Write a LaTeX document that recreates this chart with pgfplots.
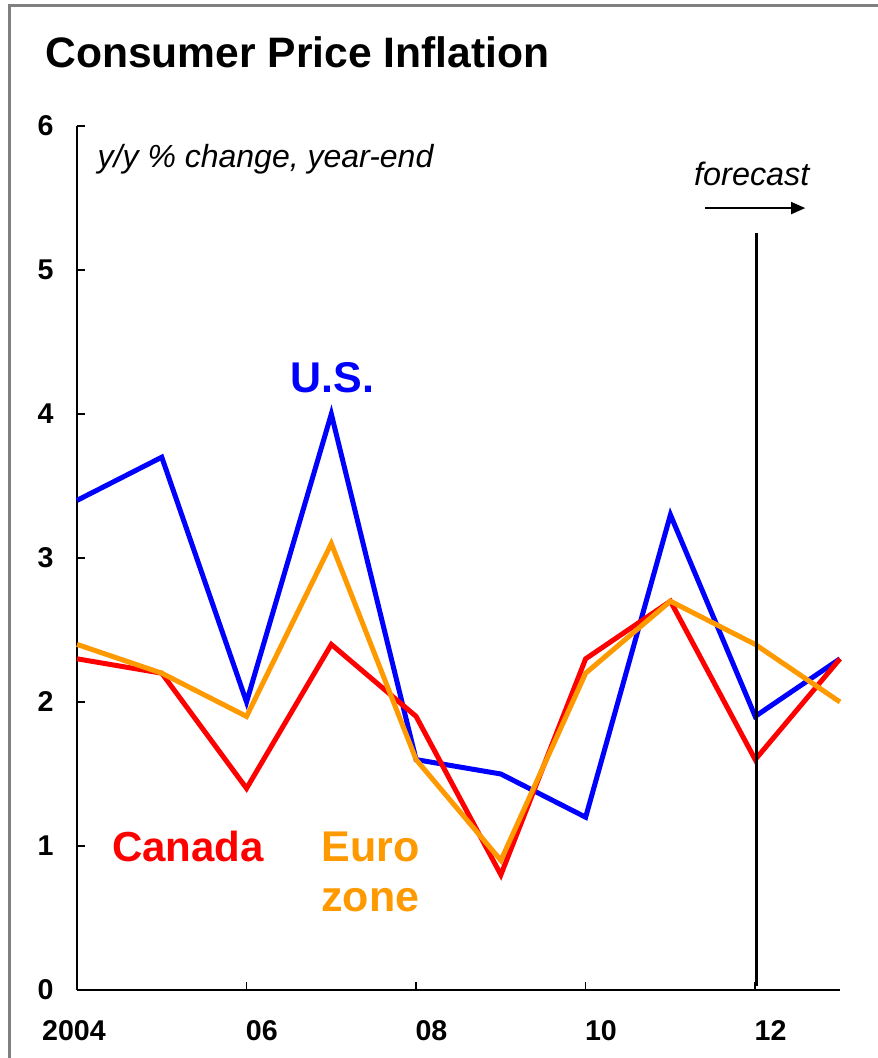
\documentclass[border=0pt]{standalone}
\usepackage{pgfplots}
\pgfplotsset{compat=1.18}
\usepackage{fontspec}
\setmainfont{Liberation Sans}
\usetikzlibrary{arrows.meta}

\definecolor{usblue}{RGB}{0,0,255}
\definecolor{canred}{RGB}{255,0,0}
\definecolor{euroorange}{RGB}{255,153,0}

\begin{document}
\begin{tikzpicture}
\begin{axis}[
    at={(38.5pt,34pt)}, anchor=south west,
    scale only axis,
    width=381.5pt, height=432pt,
    xmin=2004, xmax=2013,
    ymin=0, ymax=6,
    axis lines=left,
    axis line style={-, line width=1pt},
    clip=false,
    xtick={2006,2008,2010,2012},
    xticklabels={06,08,10,12},
    ytick={0,1,2,3,4,5,6},
    tick align=inside,
    major tick length=4pt,
    tick style={black, line width=0.8pt},
    ticklabel style={font=\bfseries\fontsize{14.3}{17}\selectfont},
    /pgf/number format/assume math mode=true,
    xticklabel style={anchor=base west, inner sep=0pt, yshift=-25pt, xshift=-0.5pt},
    yticklabel style={anchor=east, inner sep=0pt, xshift=-11.5pt},
    extra x ticks={2004},
    extra x tick labels={2004},
    extra x tick style={major tick length=0pt, xticklabel style={anchor=base, xshift=-1pt}},
]

\addplot[color=usblue, line width=2.5pt] coordinates {
    (2004,3.4)(2005,3.7)(2006,2.0)(2007,4.0)(2008,1.6)(2009,1.5)(2010,1.2)(2011,3.3)(2012,1.9)(2013,2.3)
};

\addplot[color=canred, line width=2.5pt] coordinates {
    (2004,2.3)(2005,2.2)(2006,1.4)(2007,2.4)(2008,1.9)(2009,0.8)(2010,2.3)(2011,2.7)(2012,1.6)(2013,2.3)
};

\addplot[color=euroorange, line width=2.5pt] coordinates {
    (2004,2.4)(2005,2.2)(2006,1.9)(2007,3.1)(2008,1.6)(2009,0.9)(2010,2.2)(2011,2.7)(2012,2.4)(2013,2.0)
};

% forecast divider
\draw[black, line width=1.5pt] (axis cs:2012.02,0.03) -- (axis cs:2012.02,5.26);
\draw[-{Triangle[length=7pt,width=6pt]}, line width=0.8pt] (axis cs:2011.41,5.43) -- (axis cs:2012.59,5.43);
\node[anchor=base, inner sep=0pt, font=\itshape\fontsize{16.2}{19}\selectfont] at (axis cs:2011.96,5.59) {forecast};

\node[anchor=base west, inner sep=0pt, font=\itshape\fontsize{16}{19}\selectfont] at (axis cs:2004.24,5.715) {y/y \% change, year-end};

\node[anchor=base, inner sep=0pt, text=usblue, font=\bfseries\fontsize{21.5}{26}\selectfont] at (axis cs:2007.01,4.15) {U.S.};
\node[anchor=base, inner sep=0pt, text=canred, font=\bfseries\fontsize{21}{26}\selectfont] at (axis cs:2005.31,0.89) {Canada};
\node[anchor=base, inner sep=0pt, text=euroorange, font=\bfseries\fontsize{21.5}{26}\selectfont] at (axis cs:2007.46,0.89) {Euro};
\node[anchor=base, inner sep=0pt, text=euroorange, font=\bfseries\fontsize{21.5}{26}\selectfont] at (axis cs:2007.46,0.545) {zone};
\end{axis}

\node[anchor=base west, inner sep=0pt, font=\bfseries\fontsize{21.3}{25}\selectfont] at (22.5pt,495pt) {Consumer Price Inflation};

\draw[gray, line width=1.5pt] (4.5pt,-5pt) -- (4.5pt,526pt) -- (445pt,526pt);

\pgfresetboundingbox
\useasboundingbox (0,0) rectangle (438.5pt,529pt);
\end{tikzpicture}
\end{document}
